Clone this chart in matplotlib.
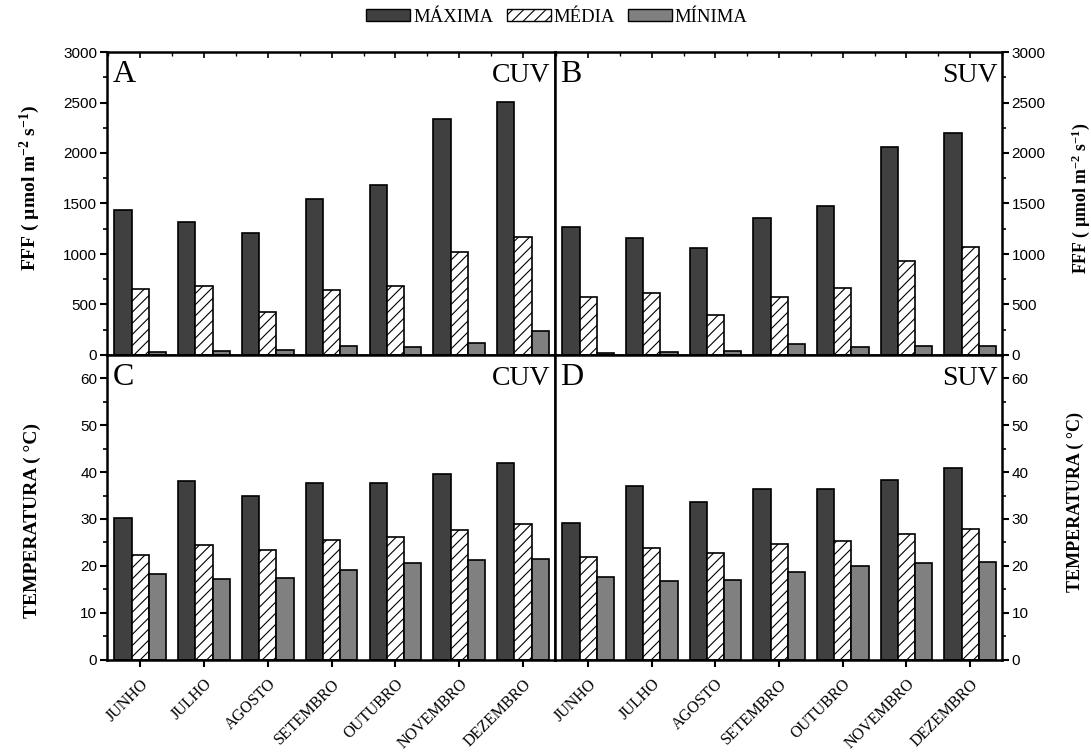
import matplotlib
matplotlib.use('Agg')
import matplotlib.pyplot as plt
import numpy as np
from matplotlib.patches import Patch
from matplotlib.ticker import MultipleLocator

months = ['JUNHO', 'JULHO', 'AGOSTO', 'SETEMBRO', 'OUTUBRO', 'NOVEMBRO', 'DEZEMBRO']

ppfd_cuv_max = [1437, 1318, 1209, 1543, 1682, 2339, 2504]
ppfd_cuv_med = [657, 684, 423, 641, 684, 1021, 1170]
ppfd_cuv_min = [30, 36, 50, 89, 76, 116, 238]

ppfd_suv_max = [1265, 1160, 1061, 1361, 1480, 2062, 2200]
ppfd_suv_med = [578, 618, 400, 578, 667, 932, 1074]
ppfd_suv_min = [23, 30, 36, 112, 76, 89, 93]

temp_cuv_max = [30.1, 38.1, 34.8, 37.6, 37.6, 39.6, 42.0]
temp_cuv_med = [22.4, 24.5, 23.4, 25.5, 26.1, 27.6, 28.9]
temp_cuv_min = [18.2, 17.2, 17.4, 19.2, 20.5, 21.3, 21.4]

temp_suv_max = [29.1, 37.0, 33.7, 36.4, 36.4, 38.4, 40.8]
temp_suv_med = [21.8, 23.8, 22.7, 24.7, 25.3, 26.8, 27.9]
temp_suv_min = [17.6, 16.8, 16.9, 18.6, 19.9, 20.6, 20.8]

series_names = ['MÁXIMA', 'MÉDIA', 'MÍNIMA']

SERIF = 'Liberation Serif'
SANS = 'Liberation Sans'
plt.rcParams['hatch.linewidth'] = 0.8
plt.rcParams['mathtext.fontset'] = 'custom'
plt.rcParams['mathtext.rm'] = SERIF
plt.rcParams['mathtext.bf'] = SERIF + ':bold'
plt.rcParams['mathtext.it'] = SERIF + ':italic'

fig = plt.figure(figsize=(10.91, 7.55), dpi=100)

x0, xm, x1 = 107/1091, 555/1091, 1002/1091
yt, ymid, yb = 1 - 52/755, 1 - 355/755, 1 - 659.5/755
w_l, w_r = xm - x0, x1 - xm
h_t, h_b = yt - ymid, ymid - yb

axA = fig.add_axes([x0, ymid, w_l, h_t])
axB = fig.add_axes([xm, ymid, w_r, h_t])
axC = fig.add_axes([x0, yb, w_l, h_b])
axD = fig.add_axes([xm, yb, w_r, h_b])

xpos = np.arange(len(months))
bw = 0.27
styles = [dict(facecolor='#404040', hatch=None),
          dict(facecolor='white', hatch='///'),
          dict(facecolor='#808080', hatch=None)]

panels = [
    (axA, [ppfd_cuv_max, ppfd_cuv_med, ppfd_cuv_min], 'A', 'CUV', 'left', 'top'),
    (axB, [ppfd_suv_max, ppfd_suv_med, ppfd_suv_min], 'B', 'SUV', 'right', 'top'),
    (axC, [temp_cuv_max, temp_cuv_med, temp_cuv_min], 'C', 'CUV', 'left', 'bottom'),
    (axD, [temp_suv_max, temp_suv_med, temp_suv_min], 'D', 'SUV', 'right', 'bottom'),
]

for ax, data, letter, tag, side, row in panels:
    for i, (vals, st) in enumerate(zip(data, styles)):
        ax.bar(xpos + (i - 1) * bw, vals, width=bw, facecolor=st['facecolor'],
               hatch=st['hatch'], edgecolor='black', linewidth=1.2, zorder=2)
    ax.set_xlim(-0.52, 6.5)
    if row == 'top':
        ax.set_ylim(0, 3000)
        ax.yaxis.set_major_locator(MultipleLocator(500))
        ax.yaxis.set_minor_locator(MultipleLocator(250))
    else:
        ax.set_ylim(0, 65)
        ax.yaxis.set_major_locator(MultipleLocator(10))
        ax.yaxis.set_minor_locator(MultipleLocator(5))
    for s in ax.spines.values():
        s.set_linewidth(1.8)
    if side == 'left':
        ax.tick_params(axis='y', which='both', left=True, right=False, labelleft=True,
                       labelright=False, direction='out')
    else:
        ax.tick_params(axis='y', which='both', left=False, right=True, labelleft=False,
                       labelright=True, direction='out')
    ax.tick_params(axis='y', which='major', length=5, width=1.5, labelsize=11, pad=2)
    ax.tick_params(axis='y', which='minor', length=3, width=1.2)
    for lab in ax.get_yticklabels():
        lab.set_fontfamily(SANS)
    ax.set_xticks(xpos)
    ax.xaxis.set_minor_locator(MultipleLocator(0.5))
    if row == 'top':
        ax.tick_params(axis='x', which='both', bottom=False, top=True, labelbottom=False,
                       direction='in')
        ax.tick_params(axis='x', which='major', length=4, width=1.2)
        ax.tick_params(axis='x', which='minor', length=3, width=1.0)
    else:
        ax.tick_params(axis='x', which='major', bottom=True, top=False, direction='out',
                       length=5, width=1.5)
        ax.tick_params(axis='x', which='minor', bottom=False, top=False)
        ax.set_xticklabels(months, rotation=45, ha='right', rotation_mode='anchor',
                           fontfamily=SERIF, fontsize=11.5)
        ax.tick_params(axis='x', pad=7)
    ax.text(0.012, 0.975, letter, transform=ax.transAxes, ha='left', va='top',
            fontfamily=SERIF, fontsize=23)
    ax.text(0.99, 0.965, tag, transform=ax.transAxes, ha='right', va='top',
            fontfamily=SERIF, fontsize=20)

ffl = 'FFF ( µmol m$^{\\mathbf{-2}}$ s$^{\\mathbf{-1}}$)'
fig.text(30/1091, 1 - 188/755, ffl, rotation=90,
         ha='center', va='center', fontfamily=SERIF, fontweight='bold', fontsize=14)
fig.text(1081/1091, 1 - 198/755, ffl, rotation=90,
         ha='center', va='center', fontfamily=SERIF, fontweight='bold', fontsize=12.8)
fig.text(32/1091, 1 - 520/755, 'TEMPERATURA ( °C)', rotation=90,
         ha='center', va='center', fontfamily=SERIF, fontweight='bold', fontsize=14)
fig.text(1075/1091, 1 - 502/755, 'TEMPERATURA ( °C)', rotation=90,
         ha='center', va='center', fontfamily=SERIF, fontweight='bold', fontsize=13)

handles = [Patch(facecolor=st['facecolor'], hatch=st['hatch'], edgecolor='black', linewidth=1.0)
           for st in styles]
fig.legend(handles, series_names, loc='center', bbox_to_anchor=(557/1091, 1 - 17/755), ncol=3,
           frameon=False, prop={'family': SERIF, 'size': 13.5}, handlelength=2.35,
           handleheight=0.6, handletextpad=0.15, columnspacing=0.7)

fig.savefig('out.png', dpi=100)
